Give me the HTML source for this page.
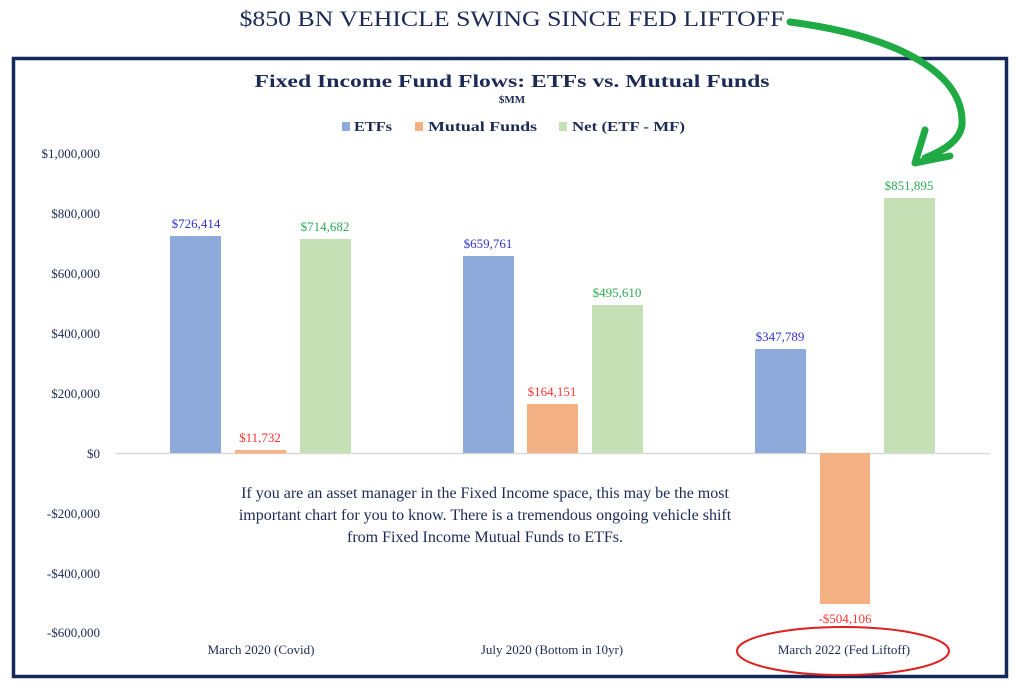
<!DOCTYPE html>
<html><head><meta charset="utf-8"><style>
html,body{margin:0;padding:0;background:#fff;}
svg text{font-family:"Liberation Serif",serif;}
</style></head><body>
<svg width="1024" height="687" viewBox="0 0 1024 687" xmlns="http://www.w3.org/2000/svg">
<rect x="0" y="0" width="1024" height="687" fill="#fff"/>
<text x="512" y="26" text-anchor="middle" font-size="22" fill="#1c2a55" textLength="545" lengthAdjust="spacingAndGlyphs">$850 BN VEHICLE SWING SINCE FED LIFTOFF</text>
<rect x="13.5" y="58.5" width="993" height="618" fill="none" stroke="#14285a" stroke-width="3.5"/>
<text x="512" y="87" text-anchor="middle" font-size="18" font-weight="bold" fill="#1c2a55" textLength="515" lengthAdjust="spacingAndGlyphs">Fixed Income Fund Flows: ETFs vs. Mutual Funds</text>
<text x="512" y="103" text-anchor="middle" font-size="11" font-weight="bold" fill="#1c2a55">$MM</text>
<rect x="342" y="122" width="8" height="9" fill="#8eaadb"/>
<text x="354" y="131" font-size="13.5" font-weight="bold" fill="#1c2a55" textLength="38" lengthAdjust="spacingAndGlyphs">ETFs</text>
<rect x="415" y="122" width="8" height="9" fill="#f4b183"/>
<text x="428" y="131" font-size="13.5" font-weight="bold" fill="#1c2a55" textLength="109" lengthAdjust="spacingAndGlyphs">Mutual Funds</text>
<rect x="559" y="122" width="8" height="9" fill="#c5e0b4"/>
<text x="572" y="131" font-size="13.5" font-weight="bold" fill="#1c2a55" textLength="113" lengthAdjust="spacingAndGlyphs">Net (ETF - MF)</text>
<g font-size="13" fill="#1c2a55" text-anchor="end">
<text x="100" y="158">$1,000,000</text>
<text x="100" y="218">$800,000</text>
<text x="100" y="278">$600,000</text>
<text x="100" y="338">$400,000</text>
<text x="100" y="398">$200,000</text>
<text x="100" y="458">$0</text>
<text x="100" y="518">-$200,000</text>
<text x="100" y="578">-$400,000</text>
<text x="100" y="637">-$600,000</text>
</g>
<line x1="115" y1="453.5" x2="990" y2="453.5" stroke="#d9d9d9" stroke-width="1.5"/>
<rect x="170" y="236" width="51" height="217" fill="#8eaadb"/>
<rect x="235" y="450" width="51" height="3.5" fill="#f4b183"/>
<rect x="300" y="239" width="51" height="214" fill="#c5e0b4"/>
<rect x="463" y="256" width="51" height="197" fill="#8eaadb"/>
<rect x="527" y="404" width="51" height="49" fill="#f4b183"/>
<rect x="592" y="305" width="51" height="148" fill="#c5e0b4"/>
<rect x="755" y="349" width="51" height="104" fill="#8eaadb"/>
<rect x="820" y="453" width="50" height="151" fill="#f4b183"/>
<rect x="884" y="198" width="51" height="255" fill="#c5e0b4"/>
<g font-size="13" text-anchor="middle">
<text x="196" y="228" fill="#3333cc">$726,414</text>
<text x="260" y="442" fill="#ff3333">$11,732</text>
<text x="325" y="231" fill="#2eaa55">$714,682</text>
<text x="488" y="248" fill="#3333cc">$659,761</text>
<text x="552" y="396" fill="#ff3333">$164,151</text>
<text x="617" y="297" fill="#2eaa55">$495,610</text>
<text x="780" y="341" fill="#3333cc">$347,789</text>
<text x="845" y="623" fill="#ff3333">-$504,106</text>
<text x="909" y="190" fill="#2eaa55">$851,895</text>
</g>
<g font-size="13" fill="#1c2a55" text-anchor="middle">
<text x="261" y="654">March 2020 (Covid)</text>
<text x="552" y="654">July 2020 (Bottom in 10yr)</text>
<text x="844" y="654">March 2022 (Fed Liftoff)</text>
</g>
<g font-size="16" fill="#1c2a55" text-anchor="middle">
<text x="485" y="498">If you are an asset manager in the Fixed Income space, this may be the most</text>
<text x="485" y="520">important chart for you to know. There is a tremendous ongoing vehicle shift</text>
<text x="485" y="542">from Fixed Income Mutual Funds to ETFs.</text>
</g>
<ellipse cx="843" cy="651" rx="106" ry="24" fill="none" stroke="#e02020" stroke-width="2"/>
<path d="M790 22 C 890 35, 965 70, 962 125 C 960 140, 945 150, 925 158" fill="none" stroke="#1faa44" stroke-width="7" stroke-linecap="round"/>
<path d="M925 130 L 915 163 L 950 156" fill="none" stroke="#1faa44" stroke-width="7" stroke-linecap="round" stroke-linejoin="round"/>
</svg>
</body></html>
